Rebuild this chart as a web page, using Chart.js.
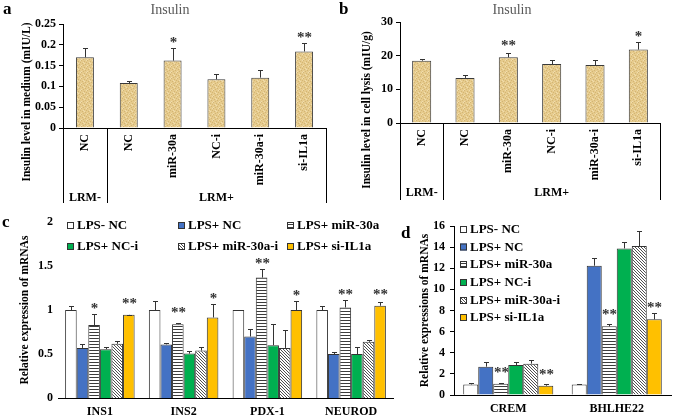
<!DOCTYPE html>
<html>
<head>
<meta charset="utf-8">
<script src="https://cdn.jsdelivr.net/npm/chart.js@4/dist/chart.umd.min.js"></script>
<style>
  body { margin: 0; background: #fff; }
  #wrap { position: relative; width: 675px; height: 417px; overflow: hidden; font-family: "Liberation Serif", serif; }
  canvas { position: absolute; }
  .tag { position: absolute; font-weight: bold; font-size: 17px; line-height: 17px; }
</style>
</head>
<body>
<div id="wrap">
  <canvas id="chartA" width="335" height="210" style="left:0;top:0"></canvas>
  <canvas id="chartB" width="340" height="210" style="left:335px;top:0"></canvas>
  <canvas id="chartC" width="400" height="207" style="left:0;top:210px"></canvas>
  <canvas id="chartD" width="275" height="207" style="left:400px;top:210px"></canvas>
  <div class="tag" style="left:3px;top:0px">a</div>
  <div class="tag" style="left:339px;top:0px">b</div>
  <div class="tag" style="left:2px;top:213px">c</div>
  <div class="tag" style="left:401px;top:224px">d</div>
</div>
<script>
// panel a / b
const groupsAB = ['NC', 'NC', 'miR-30a', 'NC-i', 'miR-30a-i', 'si-IL1a'];
const insulinMedium = [0.170, 0.108, 0.162, 0.117, 0.121, 0.184];
const insulinMediumErr = [0.023, 0.005, 0.031, 0.012, 0.018, 0.020];
const insulinMediumStars = ['', '', '*', '', '', '**'];
const insulinLysis = [18.5, 13.4, 19.5, 17.5, 17.2, 21.8];
const insulinLysisErr = [0.5, 0.8, 1.4, 1.1, 1.5, 2.4];
const insulinLysisStars = ['', '', '**', '', '', '*'];

// panel c / d
const seriesNames = ['LPS- NC', 'LPS+ NC', 'LPS+ miR-30a', 'LPS+ NC-i', 'LPS+ miR-30a-i', 'LPS+ si-IL1a'];
const genesC = ['INS1', 'INS2', 'PDX-1', 'NEUROD'];
const valuesC = [
  [1.0, 1.0, 1.0, 1.0],
  [0.57, 0.61, 0.70, 0.50],
  [0.83, 0.84, 1.37, 1.03],
  [0.555, 0.505, 0.60, 0.50],
  [0.617, 0.54, 0.57, 0.64],
  [0.946, 0.916, 1.0, 1.05]
];
const errC = [
  [0.045, 0.107, 0, 0.045],
  [0.04, 0.02, 0.09, 0.02],
  [0.13, 0.01, 0.10, 0.08],
  [0.025, 0.035, 0.24, 0.08],
  [0.03, 0.04, 0.20, 0.025],
  [0.003, 0.15, 0.10, 0.04]
];
const starsC = [
  ['', '', '', ''], ['', '', '', ''], ['*', '**', '**', '**'],
  ['', '', '', ''], ['', '', '', ''], ['**', '*', '*', '**']
];
const genesD = ['CREM', 'BHLHE22'];
const valuesD = [
  [1.0, 1.0],
  [2.68, 12.24],
  [1.07, 6.5],
  [2.84, 13.88],
  [2.97, 14.1],
  [0.88, 7.16]
];
const errD = [
  [0.12, 0.05],
  [0.44, 0.76],
  [0.1, 0.22],
  [0.25, 0.62],
  [0.37, 1.45],
  [0.16, 0.6]
];
const starsD = [
  ['', ''], ['', ''], ['**', '**'], ['', ''], ['', ''], ['**', '**']
];

const serif = '"Liberation Serif", "Times New Roman", serif';
Chart.defaults.font.family = serif;
Chart.defaults.color = '#000';
Chart.defaults.animation = false;
Chart.defaults.plugins.legend.display = false;
Chart.defaults.plugins.tooltip.enabled = false;

function tile(w, h, paint) {
  const c = document.createElement('canvas');
  c.width = w; c.height = h;
  const g = c.getContext('2d');
  paint(g);
  return g.createPattern(c, 'repeat');
}
const tan = tile(6, 6, g => {
  g.fillStyle = '#E6CB8D'; g.fillRect(0, 0, 6, 6);
  g.fillStyle = '#D3B574';
  [[0, 1], [3, 0], [4, 3], [1, 4], [5, 5], [2, 2]].forEach(p => g.fillRect(p[0], p[1], 1, 1));
  g.fillStyle = '#F0DDAE';
  [[2, 0], [5, 2], [0, 3], [3, 5]].forEach(p => g.fillRect(p[0], p[1], 1, 1));
});
const stripes = tile(1, 3, g => {
  g.fillStyle = '#fff'; g.fillRect(0, 0, 1, 3);
  g.fillStyle = '#3c3c3c'; g.fillRect(0, 2, 1, 1);
});
const hatch = tile(3, 3, g => {
  g.fillStyle = '#fff'; g.fillRect(0, 0, 3, 3);
  g.fillStyle = '#505050';
  for (let i = 0; i < 3; i++) g.fillRect(i, i, 1, 1);
});
const seriesFills = ['#ffffff', '#4472C4', stripes, '#00B050', hatch, '#FFC000'];

const plainNum = v => String(Math.round(v * 100) / 100);

// error bars and significance stars
const marks = {
  id: 'marks',
  afterDatasetsDraw(chart) {
    const ctx = chart.ctx, y = chart.scales.y;
    ctx.save();
    chart.data.datasets.forEach((ds, di) => {
      chart.getDatasetMeta(di).data.forEach((bar, i) => {
        const top = Math.round(y.getPixelForValue(ds.data[i] + ds.err[i]));
        const x = Math.round(bar.x);
        ctx.strokeStyle = '#333';
        ctx.lineWidth = 1;
        ctx.beginPath();
        ctx.moveTo(x + 0.5, bar.y);
        ctx.lineTo(x + 0.5, top);
        ctx.moveTo(x - 2, top + 0.5);
        ctx.lineTo(x + 3, top + 0.5);
        ctx.stroke();
        const s = ds.stars[i];
        if (s) {
          const cy = Math.min(top - 8, bar.y - 14);
          ctx.font = 'bold 15px ' + serif;
          ctx.textAlign = 'center';
          ctx.textBaseline = 'alphabetic';
          ctx.fillStyle = '#333';
          ctx.fillText(s, x + 0.5, cy + 7);
        }
      });
    });
    ctx.restore();
  }
};

// title, y title and LRM group brackets for panels a and b
function groupDeco(yTitle, titleX, yTitleX, yTitleY, lineEnd, labelY) {
  return {
    id: 'groupDeco',
    afterDraw(chart) {
      const ctx = chart.ctx, area = chart.chartArea, x = chart.scales.x;
      ctx.save();
      ctx.fillStyle = '#595959';
      ctx.font = '14px ' + serif;
      ctx.textAlign = 'center';
      ctx.textBaseline = 'middle';
      ctx.fillText('Insulin', titleX, 10);

      ctx.fillStyle = '#000';
      ctx.font = 'bold 11.5px ' + serif;
      ctx.translate(yTitleX, yTitleY);
      ctx.rotate(-Math.PI / 2);
      ctx.fillText(yTitle, 0, 0);
      ctx.setTransform(1, 0, 0, 1, 0, 0);

      const split = Math.round((x.getPixelForValue(0) + x.getPixelForValue(1)) / 2);
      ctx.strokeStyle = '#000';
      ctx.lineWidth = 1;
      ctx.beginPath();
      [Math.round(area.left), split, Math.round(area.right)].forEach(px => {
        ctx.moveTo(px + 0.5, area.bottom);
        ctx.lineTo(px + 0.5, lineEnd);
      });
      ctx.stroke();

      ctx.font = 'bold 12px ' + serif;
      ctx.fillText('LRM-', x.getPixelForValue(0), labelY);
      ctx.fillText('LRM+', (x.getPixelForValue(1) + x.getPixelForValue(5)) / 2, labelY);
      ctx.restore();
    }
  };
}

// legend drawn inside the plot for panels c and d
function boxLegend(spots) {
  return {
    id: 'boxLegend',
    afterDraw(chart) {
      const ctx = chart.ctx;
      ctx.save();
      ctx.font = 'bold 13px ' + serif;
      ctx.textBaseline = 'middle';
      ctx.textAlign = 'left';
      chart.data.datasets.forEach((ds, i) => {
        const [bx, by] = spots[i];
        ctx.fillStyle = ds.backgroundColor;
        ctx.fillRect(bx, by - 3, 7, 7);
        ctx.strokeStyle = '#333';
        ctx.lineWidth = 1;
        ctx.strokeRect(bx + 0.5, by - 2.5, 6, 6);
        ctx.fillStyle = '#000';
        ctx.fillText(ds.label, bx + 10, by + 1);
      });
      ctx.restore();
    }
  };
}

const tickFont = { weight: 'bold', size: 12 };

function insulinChart(id, values, errs, stars, yMax, yStep, yWidth, xHeight, pad, barPct, deco) {
  return new Chart(document.getElementById(id), {
    type: 'bar',
    data: {
      labels: groupsAB,
      datasets: [{
        data: values, err: errs, stars: stars,
        backgroundColor: tan, borderColor: '#3a3a3a', borderWidth: 1,
        categoryPercentage: 1, barPercentage: barPct
      }]
    },
    options: {
      responsive: false,
      layout: { padding: pad },
      scales: {
        x: {
          grid: { display: false, drawTicks: false },
          border: { color: '#000' },
          ticks: { minRotation: 90, maxRotation: 90, font: tickFont, padding: 6 },
          afterFit: s => { s.height = xHeight; }
        },
        y: {
          min: 0, max: yMax,
          grid: { drawOnChartArea: false, tickLength: 4, color: '#000' },
          border: { color: '#000' },
          ticks: { stepSize: yStep, font: tickFont, padding: 3, callback: plainNum },
          afterFit: s => { s.width = yWidth; }
        }
      }
    },
    plugins: [marks, deco]
  });
}

insulinChart('chartA', insulinMedium, insulinMediumErr, insulinMediumStars, 0.25, 0.05, 63, 82,
  { left: 0, right: 9, top: 24, bottom: 0 }, 0.41,
  groupDeco('Insulin level in medium (mIU/L)', 170, 27, 102, 203, 198));
insulinChart('chartB', insulinLysis, insulinLysisErr, insulinLysisStars, 30, 5, 65, 87,
  { left: 0, right: 15, top: 22, bottom: 0 }, 0.44,
  groupDeco('Insulin level in cell lysis (mIU/g)', 177, 32, 110, 200, 193));

function mrnaDatasets(values, errs, stars) {
  return seriesNames.map((name, i) => ({
    label: name, data: values[i], err: errs[i], stars: stars[i],
    backgroundColor: seriesFills[i], borderColor: '#333', borderWidth: 1,
    categoryPercentage: 0.83, barPercentage: 1
  }));
}

new Chart(document.getElementById('chartC'), {
  type: 'bar',
  data: { labels: genesC, datasets: mrnaDatasets(valuesC, errC, starsC) },
  options: {
    responsive: false,
    layout: { padding: { left: 0, right: 7, top: 9, bottom: 0 } },
    scales: {
      x: {
        grid: { display: false, drawTicks: false },
        border: { color: '#000' },
        ticks: { font: tickFont, padding: 7 },
        afterFit: s => { s.height = 19; }
      },
      y: {
        min: 0, max: 2,
        grid: { display: false, drawTicks: false },
        border: { display: false },
        ticks: { stepSize: 0.5, font: tickFont, padding: 5, callback: plainNum },
        title: { display: true, text: 'Relative expression of mRNAs', font: { weight: 'bold', size: 11.5 }, padding: { top: 18 } },
        afterFit: s => { s.width = 58; }
      }
    }
  },
  plugins: [marks, boxLegend([[67, 15], [178, 15], [287, 15], [67, 36], [178, 36], [287, 36]])]
});

new Chart(document.getElementById('chartD'), {
  type: 'bar',
  data: { labels: genesD, datasets: mrnaDatasets(valuesD, errD, starsD) },
  options: {
    responsive: false,
    layout: { padding: { left: 0, right: 4, top: 16, bottom: 0 } },
    scales: {
      x: {
        grid: { display: false, drawTicks: false },
        border: { color: '#000' },
        ticks: { font: tickFont, padding: 7 },
        afterFit: s => { s.height = 22; }
      },
      y: {
        min: 0, max: 16,
        grid: { drawOnChartArea: false, tickLength: 4, color: '#000' },
        border: { color: '#000' },
        ticks: { stepSize: 2, font: tickFont, padding: 5, callback: plainNum },
        title: { display: true, text: 'Relative expressions of mRNAs', font: { weight: 'bold', size: 11.5 }, padding: { top: 18 } },
        afterFit: s => { s.width = 54; }
      }
    }
  },
  plugins: [marks, boxLegend([[60, 19], [60, 36.5], [60, 54], [60, 72], [60, 90], [60, 107]])]
});
</script>
</body>
</html>
